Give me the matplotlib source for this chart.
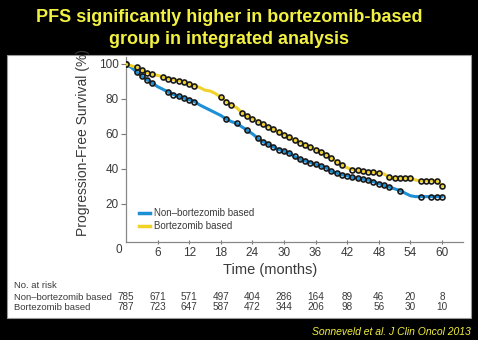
import numpy as np
import matplotlib.pyplot as plt
from matplotlib.patches import Rectangle
from matplotlib.lines import Line2D
from matplotlib.transforms import blended_transform_factory

# curvas de supervivencia (meses 0..60)
months = list(range(61))
non_bort = [100, 98, 95.5, 93, 91, 89, 87, 85.5, 84, 82.5, 81.5, 80.5, 79.5, 78.5, 76.5, 75,
            73.5, 72, 70.5, 68.5, 67, 66, 64, 62, 60, 57.5, 55.5, 54, 52.5, 51, 50, 49, 47,
            45.5, 44.5, 43.5, 42.5, 41.5, 40.5, 38.5, 37.5, 36.5, 36, 35, 34.5, 34, 33.5,
            32.5, 31.5, 30.5, 29.5, 28.5, 27.5, 26, 24.5, 24, 24, 24, 24, 24, 24]
bort = [100, 99, 98, 96.5, 95, 94, 93.5, 92.5, 91.5, 91, 90.5, 89.5, 88.5, 87.5, 86.5, 85,
        84.5, 83, 81, 78.5, 76.5, 75, 72, 70, 68.5, 67, 65.5, 64, 62.5, 61, 59.5, 58, 56.5,
        55, 53.5, 52.5, 51, 49.5, 48, 46, 44, 42, 40.5, 39.5, 39, 38.5, 38, 38, 37.5, 37,
        35, 34.5, 34.5, 34.5, 34.5, 33.5, 33, 33, 33, 33, 30]
# meses con marcas de censura
non_bort_cens = [0, 2, 3, 4, 5, 8, 9, 10, 11, 12, 13, 19, 21, 23, 25, 26, 27, 28, 29, 30, 31,
                 32, 33, 34, 35, 36, 37, 38, 39, 40, 41, 42, 43, 44, 45, 46, 47, 48, 49, 50,
                 52, 56, 58, 59, 60]
bort_cens = [0, 2, 3, 4, 5, 7, 8, 9, 10, 11, 12, 13, 18, 19, 20, 22, 23, 24, 25, 26, 27, 28,
             29, 30, 31, 32, 33, 34, 35, 36, 37, 38, 39, 40, 41, 43, 44, 45, 46, 47, 48, 50,
             51, 52, 53, 54, 56, 57, 58, 59, 60]

xticks = [6, 12, 18, 24, 30, 36, 42, 48, 54, 60]
yticks = [20, 40, 60, 80, 100]
risk_times = [0, 6, 12, 18, 24, 30, 36, 42, 48, 54, 60]
risk_non = [785, 671, 571, 497, 404, 286, 164, 89, 46, 20, 8]
risk_bort = [787, 723, 647, 587, 472, 344, 206, 98, 56, 30, 10]

blue = '#1d8fd4'
yel = '#f0d22a'
ttl = '#f2f040'
txt = '#3a3a3a'

plt.rcParams['font.family'] = ['Liberation Sans', 'DejaVu Sans']

W, H = 478, 340
fig = plt.figure(figsize=(W/100, H/100), dpi=100, facecolor='black')
fig.patches.append(Rectangle((7/W, 1-318/H), 464/W, 263/H, transform=fig.transFigure,
                             facecolor='white', edgecolor='#999999', lw=0.8, zorder=-10))

fig.text(229/W, 1-17/H, 'PFS significantly higher in bortezomib-based', ha='center', va='center',
         fontsize=13, fontweight='bold', color=ttl)
fig.text(229/W, 1-40/H, 'group in integrated analysis', ha='center', va='center',
         fontsize=13, fontweight='bold', color=ttl)

ax = fig.add_axes([126/W, 1-242/H, 337/W, 185/H])
ax.set_facecolor('white')
ax.plot(months, non_bort, color=blue, lw=2.2, marker='o', ms=3.6, mfc='none', mec='#1a1a1a',
        mew=1.2, markevery=non_bort_cens, zorder=3)
ax.plot(months, bort, color=yel, lw=2.2, marker='o', ms=3.6, mfc='none', mec='#1a1a1a',
        mew=1.2, markevery=bort_cens, zorder=3)
ax.set_xlim(0, 64)
ax.set_ylim(-2, 104)
ax.set_xticks(xticks)
ax.set_yticks(yticks)
ax.tick_params(axis='both', colors='#777777', labelcolor=txt, labelsize=8.5, length=3.5, width=0.8)
ax.tick_params(axis='x', direction='inout', pad=2)
ax.tick_params(axis='y', pad=1.5)
for s in ['top', 'right']:
    ax.spines[s].set_visible(False)
for s in ['left', 'bottom']:
    ax.spines[s].set_color('#888888')
    ax.spines[s].set_linewidth(0.9)

fig.text(119/W, 1-250/H, '0', ha='center', va='center', fontsize=8.5, color=txt)
fig.text(83/W, 1-142/H, 'Progression-Free Survival (%)', rotation=90, ha='center', va='center',
         fontsize=10, color=txt)
fig.text(270/W, 1-270/H, 'Time (months)', ha='center', va='center', fontsize=10.5, color=txt)

handles = [Line2D([], [], color=blue, lw=2.5), Line2D([], [], color=yel, lw=2.5)]
ax.legend(handles, ['Non\u2013bortezomib based', 'Bortezomib based'], loc='lower left',
          bbox_to_anchor=(139/W, 1-231/H), bbox_transform=fig.transFigure, frameon=False,
          fontsize=7, handlelength=1.1, handletextpad=0.4, labelspacing=0.3, borderpad=0,
          borderaxespad=0, labelcolor=txt)

# tabla de pacientes en riesgo
fs = 6.8
fig.text(14/W, 1-286/H, 'No. at risk', ha='left', va='center', fontsize=fs, color=txt)
fig.text(14/W, 1-297/H, 'Non\u2013bortezomib based', ha='left', va='center', fontsize=fs, color=txt)
fig.text(14/W, 1-307/H, 'Bortezomib based', ha='left', va='center', fontsize=fs, color=txt)
tr = blended_transform_factory(ax.transData, fig.transFigure)
for t, a, b in zip(risk_times, risk_non, risk_bort):
    ax.text(t, 1-297/H, str(a), transform=tr, ha='center', va='center', fontsize=7.2,
            color=txt, clip_on=False)
    ax.text(t, 1-307/H, str(b), transform=tr, ha='center', va='center', fontsize=7.2,
            color=txt, clip_on=False)

fig.text(471/W, 1-332/H, 'Sonneveld et al. J Clin Oncol 2013', ha='right', va='center',
         fontsize=7.5, style='italic', color=ttl)

fig.savefig('out.png', dpi=100, facecolor='black')
